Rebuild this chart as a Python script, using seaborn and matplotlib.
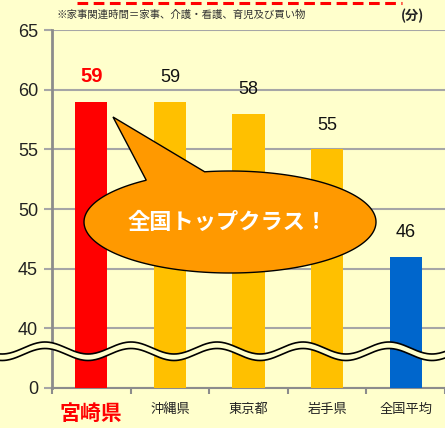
import numpy as np
import pandas as pd
import seaborn as sns
import matplotlib.pyplot as plt
from matplotlib.patches import Polygon

# DATA
categories = ["宮崎県", "沖縄県", "東京都", "岩手県", "全国平均"]
values = [59, 59, 58, 55, 46]
bar_colors = ["#FF0000", "#FFC000", "#FFC000", "#FFC000", "#0066CC"]
y_ticks = [35, 40, 45, 50, 55, 60, 65]
y_tick_labels = ["0", "40", "45", "50", "55", "60", "65"]
note_text = "※家事関連時間＝家事、介護・看護、育児及び買い物"
unit_text = "(分)"
bubble_text = "全国トップクラス！"

BG = "#FFFFCC"
W, H = 445, 428

sns.set_theme(style="white")
plt.rcParams['font.family'] = ['Liberation Sans', 'Noto Sans CJK JP', 'DejaVu Sans']

df = pd.DataFrame({"cat": categories, "val": values})

fig = plt.figure(figsize=(W / 100, H / 100), dpi=100, facecolor=BG)
ax = fig.add_axes([52 / W, 1 - 388 / H, 1 - 52 / W, (388 - 30) / H])
ax.set_facecolor(BG)

sns.barplot(data=df, x="cat", y="val", hue="cat", palette=bar_colors,
            width=0.41, legend=False, ax=ax, zorder=3, saturation=1, linewidth=0)

ax.set_ylim(35, 65)
ax.set_xlim(-0.5, 4.5)
ax.set_yticks(y_ticks)
ax.set_yticklabels(y_tick_labels, fontsize=13, color="#222222")
ax.yaxis.grid(True, color="#A6A6A6", linewidth=1.5, zorder=0)
ax.set_axisbelow(True)
ax.set_xlabel("")
ax.set_ylabel("")

# x ticks at category boundaries, labels in between
ax.set_xticks(np.arange(-0.5, 5, 1.0))
ax.set_xticklabels([])
ax.tick_params(axis="x", direction="out", length=4, width=1.5, color="#8C8C8C", bottom=True)
ax.tick_params(axis="y", direction="out", length=6, width=1.5, color="#A6A6A6", left=True, pad=4)
for i, c in enumerate(categories):
    if i == 0:
        ax.text(i, 32.9, c, ha="center", va="center", fontsize=15, fontweight="bold",
                color="#FF0000", family=['Noto Sans CJK JP'])
    else:
        ax.text(i, 33.2, c, ha="center", va="center", fontsize=9.5, color="#222222",
                family=['Noto Sans CJK JP'])

for s in ["top", "right"]:
    ax.spines[s].set_visible(False)
ax.spines["left"].set_color("#8C8C8C")
ax.spines["left"].set_linewidth(2)
ax.spines["bottom"].set_color("#8C8C8C")
ax.spines["bottom"].set_linewidth(1.5)

# value labels
for i, v in enumerate(values):
    if i == 0:
        ax.text(i, v + 2.1, str(v), ha="center", va="center", fontsize=14.5,
                fontweight="bold", color="#FF0000")
    else:
        ax.text(i, v + 2.0, str(v), ha="center", va="center", fontsize=13, color="#111111")


def px(x, y):
    return x / W, 1 - y / H


# axis break waves
xs = np.linspace(0, W, 400)
top_wave = 348 - 6 * np.cos(2 * np.pi * (xs - 45) / 86)
bot_wave = top_wave + 6.5
fill_pts = [px(x, y) for x, y in zip(xs, top_wave)] + [px(x, y) for x, y in zip(xs[::-1], bot_wave[::-1])]
fig.add_artist(Polygon(fill_pts, closed=True, transform=fig.transFigure,
                       facecolor=BG, edgecolor="none", zorder=5))
for wave in (top_wave, bot_wave):
    p = [px(x, y) for x, y in zip(xs, wave)]
    fig.add_artist(plt.Line2D([q[0] for q in p], [q[1] for q in p], transform=fig.transFigure,
                              color="black", linewidth=1.2, zorder=6))

# speech bubble
cx, cy, a, b = 230, 222, 146, 51
t = np.radians(np.linspace(125, 100 + 360, 300))
ell = [px(cx + a * np.cos(tt), cy - b * np.sin(tt)) for tt in t]
ell.append(px(113, 117))
fig.add_artist(Polygon(ell, closed=True, transform=fig.transFigure,
                       facecolor="#FF9900", edgecolor="black", linewidth=1.0, zorder=7))
fig.text(*px(228, 222), bubble_text, ha="center", va="center", fontsize=16,
         fontweight="bold", color="white", family=['Noto Sans CJK JP'], zorder=8)

# top note, unit, dashed line
fig.text(*px(57, 15), note_text, ha="left", va="center", fontsize=7.5,
         color="#333333", family=['Noto Sans CJK JP'])
fig.text(*px(413, 16), unit_text, ha="center", va="center", fontsize=9.5,
         fontweight="bold", color="#222222", family=['Noto Sans CJK JP'])
fig.add_artist(plt.Line2D([77 / W, 402 / W], [1 - 2.5 / H, 1 - 2.5 / H], transform=fig.transFigure,
                          color="#FF0000", linewidth=2.2, linestyle=(0, (3.5, 1.8)), zorder=10))

fig.savefig("out.png", dpi=100, facecolor=BG)
